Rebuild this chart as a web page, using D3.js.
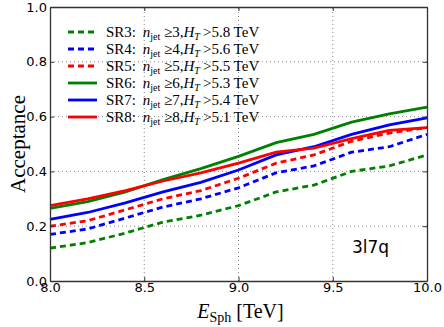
<!DOCTYPE html>
<html>
<head>
<meta charset="utf-8">
<style>
body { margin: 0; background: #fff; }
svg text { fill: #000; }
</style>
</head>
<body>
<div id="chart"></div>
<script src="https://cdn.jsdelivr.net/npm/d3@7"></script>
<script>
// E_Sph sample points (TeV)
const esph = [8.0, 8.2, 8.4, 8.6, 8.8, 9.0, 9.2, 9.4, 9.6, 9.8, 10.0];

// acceptance per signal region
const sr3 = [0.12, 0.14, 0.175, 0.215, 0.24, 0.275, 0.325, 0.35, 0.40, 0.42, 0.46];
const sr4 = [0.17, 0.19, 0.23, 0.27, 0.30, 0.34, 0.395, 0.42, 0.47, 0.49, 0.535];
const sr5 = [0.20, 0.22, 0.26, 0.30, 0.33, 0.375, 0.43, 0.46, 0.51, 0.54, 0.56];
const sr6 = [0.265, 0.29, 0.325, 0.37, 0.41, 0.455, 0.505, 0.535, 0.58, 0.61, 0.635];
const sr7 = [0.225, 0.25, 0.285, 0.325, 0.36, 0.405, 0.46, 0.49, 0.535, 0.57, 0.595];
const sr8 = [0.275, 0.30, 0.33, 0.365, 0.395, 0.43, 0.47, 0.485, 0.52, 0.55, 0.56];

const seriesNames = ["SR3", "SR4", "SR5", "SR6", "SR7", "SR8"];
const njet = [3, 4, 5, 6, 7, 8];
const htCut = ["5.8", "5.6", "5.5", "5.3", "5.4", "5.1"];
const colors = ["green", "blue", "red", "green", "blue", "red"];
const dashed = [true, true, true, false, false, false];
const allSeries = [sr3, sr4, sr5, sr6, sr7, sr8];

const xTicks = [8.0, 8.5, 9.0, 9.5, 10.0];
const yTicks = [0.0, 0.2, 0.4, 0.6, 0.8, 1.0];

const W = 444, H = 327;
const m = {left: 50, right: 17, top: 7, bottom: 46};

const svg = d3.select("#chart").append("svg")
    .attr("width", W).attr("height", H);

const x = d3.scaleLinear().domain([8, 10]).range([m.left, W - m.right]);
const y = d3.scaleLinear().domain([0, 1]).range([H - m.bottom, m.top]);

// grid
const grid = svg.append("g").attr("stroke", "#555").attr("stroke-width", 0.7)
    .attr("stroke-dasharray", "1,3");
grid.selectAll(".gx").data(xTicks.slice(1, -1)).enter().append("line")
    .attr("x1", d => x(d)).attr("x2", d => x(d))
    .attr("y1", y(0)).attr("y2", y(1));
grid.selectAll(".gy").data(yTicks.slice(1, -1)).enter().append("line")
    .attr("y1", d => y(d)).attr("y2", d => y(d))
    .attr("x1", x(8)).attr("x2", x(10));

// series
const line = d3.line().x((d, i) => x(esph[i])).y(d => y(d));
svg.append("g").selectAll("path").data(allSeries).enter().append("path")
    .attr("d", d => line(d))
    .attr("fill", "none")
    .attr("stroke", (d, i) => colors[i])
    .attr("stroke-width", 2.8)
    .attr("stroke-dasharray", (d, i) => dashed[i] ? "6,4" : null);

// axes
const tickFmt = d3.format(".1f");
const xAxis = svg.append("g").attr("transform", `translate(0,${y(0)})`)
    .call(d3.axisBottom(x).tickValues(xTicks).tickFormat(tickFmt).tickSizeInner(-4).tickSizeOuter(0).tickPadding(4));
const yAxis = svg.append("g").attr("transform", `translate(${x(8)},0)`)
    .call(d3.axisLeft(y).tickValues(yTicks).tickFormat(tickFmt).tickSizeInner(-4).tickSizeOuter(0).tickPadding(3));
svg.append("g").attr("transform", `translate(0,${y(1)})`)
    .call(d3.axisTop(x).tickValues(xTicks).tickFormat("").tickSizeInner(-4).tickSizeOuter(0));
svg.append("g").attr("transform", `translate(${x(10)},0)`)
    .call(d3.axisRight(y).tickValues(yTicks).tickFormat("").tickSizeInner(-4).tickSizeOuter(0));
svg.selectAll(".domain").attr("stroke", "#333").attr("stroke-width", 1.3);
svg.selectAll(".tick line").attr("stroke", "#333");
svg.selectAll(".tick text").attr("font-family", "DejaVu Sans").attr("font-size", 13).attr("fill", "#000");
xAxis.selectAll(".tick text").attr("dy", "0.55em");

// axis labels
svg.append("text").attr("x", (x(8) + x(10)) / 2 + 2).attr("y", 318)
    .attr("text-anchor", "middle").attr("font-family", "Liberation Serif").attr("font-size", 20)
    .html('<tspan font-style="italic">E</tspan><tspan font-size="14" dy="4">Sph</tspan><tspan dy="-4"> [TeV]</tspan>');
svg.append("text").attr("transform", `translate(25,${(y(0) + y(1)) / 2}) rotate(-90)`)
    .attr("text-anchor", "middle").attr("font-family", "Liberation Serif").attr("font-size", 21)
    .text("Acceptance");

// legend
const leg = svg.append("g").attr("font-family", "Liberation Serif").attr("font-size", 15);
const rowH = 17;
seriesNames.forEach((name, i) => {
    const yy = 32 + i * rowH;
    leg.append("line").attr("x1", 68).attr("x2", 97).attr("y1", yy).attr("y2", yy)
        .attr("stroke", colors[i]).attr("stroke-width", 2.8)
        .attr("stroke-dasharray", dashed[i] ? "6,4" : null);
    leg.append("text").attr("x", 106).attr("y", yy + 5)
        .html(`${name}:\u2009 <tspan font-style="italic">n</tspan><tspan font-size="10" dy="3">jet</tspan><tspan dy="-3"> \u2265${njet[i]},</tspan><tspan font-style="italic">H</tspan><tspan font-style="italic" font-size="10" dy="3">T</tspan><tspan dy="-3">\u2009&gt;${htCut[i]} TeV</tspan>`);
});

// process label
svg.append("text").attr("x", 352).attr("y", 253)
    .attr("font-family", "DejaVu Sans").attr("font-size", 17).text("3l7q");
</script>
</body>
</html>
